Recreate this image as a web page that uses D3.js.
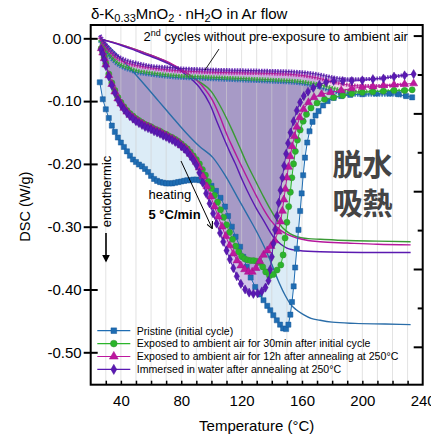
<!DOCTYPE html>
<html>
<head>
<meta charset="utf-8">
<script src="https://cdn.jsdelivr.net/npm/d3@7"></script>
<style>
  body { margin: 0; background: #fff; }
  text { font-family: "Liberation Sans", Arial, sans-serif; fill: #000; }
</style>
</head>
<body>
<script>
// chart box
const DIM = { width: 431, height: 438, left: 90.7, top: 25, right: 8.3, bottom: 53.3 };
DIM.innerWidth = DIM.width - DIM.left - DIM.right;
DIM.innerHeight = DIM.height - DIM.top - DIM.bottom;

// ---- data: [temperature (°C), DSC (W/g)] ----
const pristineFirst = [[26,-0.070],[28,-0.097],[30,-0.113],[32,-0.127],[34,-0.139],[36,-0.149],[38,-0.158],[40,-0.166],[42,-0.173],[44,-0.180],[46,-0.187],[48,-0.193],[50,-0.197],[52,-0.201],[54,-0.204],[56,-0.208],[58,-0.213],[60,-0.219],[62,-0.224],[64,-0.227],[66,-0.229],[68,-0.230],[70,-0.231],[72,-0.231],[74,-0.231],[76,-0.230],[78,-0.229],[80,-0.228],[82,-0.227],[84,-0.226],[86,-0.226],[88,-0.225],[90,-0.225],[92,-0.226],[94,-0.227],[97,-0.230],[100,-0.235],[103,-0.243],[106,-0.254],[109,-0.268],[111,-0.283],[113.5,-0.300],[116,-0.316],[119,-0.332],[121,-0.348],[123.4,-0.364],[126,-0.381],[129,-0.396],[132,-0.408],[134.5,-0.417],[137,-0.426],[139,-0.433],[141,-0.441],[143.3,-0.449],[145.5,-0.456],[147.5,-0.462],[149.5,-0.463],[151,-0.456],[152.3,-0.440],[153.4,-0.420],[154.5,-0.395],[155.5,-0.365],[156.6,-0.335],[157.7,-0.305],[158.8,-0.275],[159.8,-0.247],[160.8,-0.218],[162,-0.190],[163.5,-0.166],[165,-0.148],[167,-0.133],[169,-0.123],[171,-0.116],[174,-0.107],[177,-0.100],[181,-0.095],[186,-0.092],[192,-0.090],[200,-0.089],[209,-0.088],[218,-0.088],[224,-0.089],[229,-0.092],[233,-0.094]];
const air30First = [[27,-0.016],[28,-0.022],[29,-0.030],[30,-0.040],[32,-0.057],[34,-0.071],[36,-0.083],[38,-0.094],[40,-0.102],[42,-0.109],[44,-0.115],[46,-0.120],[48,-0.124],[50,-0.128],[52,-0.131],[54,-0.134],[56,-0.137],[58,-0.139],[60,-0.141],[62,-0.144],[64,-0.146],[66,-0.148],[68,-0.151],[70,-0.153],[72,-0.156],[74,-0.158],[76,-0.161],[78,-0.164],[80,-0.168],[82,-0.172],[84,-0.176],[86,-0.181],[88,-0.187],[90,-0.193],[92,-0.200],[94,-0.209],[96,-0.218],[98,-0.228],[100,-0.239],[102,-0.250],[104,-0.261],[106,-0.273],[108,-0.285],[110,-0.297],[112,-0.309],[114,-0.320],[116,-0.331],[118,-0.340],[120,-0.347],[122,-0.351],[124,-0.353],[126,-0.354],[128,-0.354],[130,-0.355],[132,-0.357],[134,-0.364],[136,-0.372],[138.5,-0.378],[141,-0.376],[143.5,-0.369],[146,-0.361],[147.5,-0.345],[148.8,-0.318],[150,-0.293],[151.2,-0.268],[152.3,-0.245],[153.3,-0.222],[154.4,-0.200],[155.6,-0.180],[157,-0.162],[158.8,-0.146],[160.8,-0.132],[163,-0.121],[166,-0.111],[170,-0.103],[175,-0.097],[181,-0.094],[187,-0.091],[193,-0.088],[200,-0.086],[207,-0.085],[214,-0.084],[221,-0.083],[228,-0.083],[233,-0.082]];
const air12hFirst = [[27,-0.016],[28,-0.023],[29,-0.032],[30,-0.042],[32,-0.059],[34,-0.073],[36,-0.085],[38,-0.096],[40,-0.104],[42,-0.111],[44,-0.117],[46,-0.122],[48,-0.126],[50,-0.130],[52,-0.133],[54,-0.136],[56,-0.139],[58,-0.141],[60,-0.143],[62,-0.146],[64,-0.148],[66,-0.150],[68,-0.153],[70,-0.155],[72,-0.158],[74,-0.160],[76,-0.163],[78,-0.166],[80,-0.170],[82,-0.174],[84,-0.178],[86,-0.184],[88,-0.190],[90,-0.197],[92,-0.206],[94.5,-0.220],[97,-0.236],[99.5,-0.252],[102,-0.268],[104.5,-0.284],[107,-0.300],[109.5,-0.315],[112,-0.330],[114.5,-0.343],[117,-0.354],[119.5,-0.362],[122,-0.368],[124.5,-0.372],[127,-0.372],[129.5,-0.366],[132,-0.355],[134.5,-0.345],[137,-0.338],[139.5,-0.331],[142,-0.322],[144.2,-0.308],[145.8,-0.292],[147,-0.275],[148,-0.257],[149,-0.240],[150,-0.222],[151,-0.205],[152.2,-0.188],[153.5,-0.172],[155,-0.156],[156.6,-0.141],[158.5,-0.126],[161,-0.113],[164.3,-0.102],[168,-0.094],[173,-0.089],[179,-0.086],[186,-0.083],[193,-0.080],[200,-0.078],[207,-0.077],[214,-0.075],[221,-0.074],[228,-0.073],[234,-0.072]];
const waterFirst = [[27,-0.018],[28,-0.025],[29,-0.034],[30,-0.044],[32,-0.061],[34,-0.075],[36,-0.087],[38,-0.098],[40,-0.106],[42,-0.113],[44,-0.119],[46,-0.124],[48,-0.128],[50,-0.132],[52,-0.135],[54,-0.138],[56,-0.141],[58,-0.143],[60,-0.145],[62,-0.148],[64,-0.150],[66,-0.152],[68,-0.155],[70,-0.157],[72,-0.160],[74,-0.162],[76,-0.165],[78,-0.168],[80,-0.172],[82,-0.176],[84,-0.181],[86,-0.187],[88,-0.194],[90,-0.202],[92,-0.214],[94.2,-0.230],[96.5,-0.247],[98.8,-0.263],[101.1,-0.279],[103.4,-0.295],[105.7,-0.310],[107.8,-0.324],[110,-0.338],[112.2,-0.352],[114.5,-0.366],[116.8,-0.379],[119.5,-0.391],[122.3,-0.400],[125,-0.405],[127.8,-0.407],[130.6,-0.406],[133.4,-0.403],[135.8,-0.397],[137.8,-0.386],[139,-0.368],[140,-0.348],[141.1,-0.327],[142.2,-0.305],[143.4,-0.283],[144.6,-0.262],[145.8,-0.242],[147,-0.222],[148.2,-0.203],[149.5,-0.184],[150.8,-0.167],[152.4,-0.150],[154.4,-0.132],[156.6,-0.115],[158.8,-0.102],[161.2,-0.092],[164,-0.085],[167.5,-0.079],[171.5,-0.074],[176,-0.070],[181,-0.068],[187,-0.068],[193,-0.068],[200,-0.067],[207,-0.065],[214,-0.064],[221,-0.061],[228,-0.059],[234,-0.057]];

// 2nd cycles (no pre-exposure)
const pristineSecond = [[26,-0.004],[28,-0.012],[30,-0.020],[33,-0.030],[36,-0.038],[40,-0.045],[45,-0.050],[50,-0.054],[60,-0.058],[70,-0.061],[80,-0.063],[90,-0.064],[100,-0.065],[120,-0.067],[140,-0.069],[160,-0.072],[170,-0.077],[180,-0.084],[190,-0.089],[200,-0.090],[210,-0.090],[220,-0.090],[230,-0.092]];
const air30Second = [[26,-0.002],[28,-0.010],[30,-0.017],[33,-0.027],[36,-0.035],[40,-0.042],[45,-0.047],[50,-0.051],[60,-0.055],[70,-0.058],[80,-0.060],[90,-0.061],[100,-0.062],[120,-0.064],[140,-0.066],[160,-0.069],[170,-0.073],[180,-0.079],[190,-0.084],[200,-0.085],[210,-0.085],[220,-0.084],[230,-0.083]];
const air12hSecond = [[26,0.002],[28,-0.006],[30,-0.013],[33,-0.022],[36,-0.029],[40,-0.035],[45,-0.040],[50,-0.043],[60,-0.047],[70,-0.050],[80,-0.052],[90,-0.053],[100,-0.054],[120,-0.055],[140,-0.056],[160,-0.059],[170,-0.063],[180,-0.069],[190,-0.074],[200,-0.076],[210,-0.076],[220,-0.075],[230,-0.073]];
const waterSecond = [[26,0.005],[28,-0.003],[30,-0.010],[33,-0.018],[36,-0.025],[40,-0.031],[45,-0.036],[50,-0.039],[60,-0.044],[70,-0.046],[80,-0.048],[90,-0.049],[100,-0.050],[120,-0.051],[140,-0.052],[160,-0.054],[170,-0.057],[180,-0.062],[190,-0.065],[200,-0.065],[210,-0.064],[220,-0.061],[230,-0.058]];

// integrated heat curves (solid lines, no markers)
const pristineInt = [[28,-0.003],[35,-0.020],[45,-0.045],[55,-0.072],[65,-0.100],[75,-0.128],[83,-0.150],[92,-0.172],[101,-0.190],[109,-0.218],[117,-0.252],[124,-0.282],[130,-0.308],[135,-0.332],[140,-0.360],[145,-0.390],[149,-0.410],[152,-0.422],[156,-0.432],[161,-0.440],[166,-0.446],[172,-0.449],[180,-0.452],[195,-0.454],[215,-0.455],[232,-0.456]];
const air30Int = [[28,-0.002],[40,-0.010],[50,-0.018],[60,-0.027],[70,-0.037],[80,-0.050],[90,-0.066],[100,-0.085],[107,-0.113],[113.5,-0.145],[118.5,-0.172],[123.4,-0.199],[129,-0.226],[134.5,-0.252],[139,-0.272],[143.3,-0.289],[147.7,-0.303],[152,-0.311],[156.6,-0.316],[164,-0.319],[172,-0.320],[190,-0.322],[210,-0.323],[232,-0.324]];
const air12hInt = [[28,-0.002],[40,-0.010],[50,-0.018],[60,-0.027],[71.5,-0.038],[82,-0.053],[93.6,-0.075],[101,-0.100],[106,-0.127],[110,-0.152],[114.5,-0.176],[119,-0.199],[124.5,-0.226],[130,-0.252],[134.5,-0.272],[139,-0.289],[145.5,-0.305],[150,-0.312],[156.6,-0.318],[164,-0.322],[172,-0.324],[190,-0.326],[210,-0.328],[232,-0.329]];
const waterInt = [[28,-0.002],[40,-0.011],[50,-0.020],[60,-0.029],[71,-0.040],[82,-0.056],[92,-0.078],[99,-0.105],[104,-0.135],[108,-0.158],[112,-0.180],[115.7,-0.199],[120.5,-0.226],[125.6,-0.252],[130,-0.272],[134.5,-0.290],[141,-0.316],[146,-0.328],[150,-0.334],[158,-0.338],[172,-0.340],[200,-0.341],[232,-0.341]];

const legendLabels = [
    'Pristine (initial cycle)',
    'Exposed to ambient air for 30min after initial cycle',
    'Exposed to ambient air for 12h after annealing at 250\u00b0C',
    'Immersed in water after annealing at 250\u00b0C'
];
const xTicks = [40, 80, 120, 160, 200, 240];
const yTicks = [0, -0.1, -0.2, -0.3, -0.4, -0.5];

const series = [
    { first: pristineFirst, second: pristineSecond, integ: pristineInt, color: '#1f6db3', edge: '#17599a', intColor: '#2a6da8',
      fill: 'rgba(170,210,235,0.41)', symbol: d3.symbolSquare, size: 26 },
    { first: air30First, second: air30Second, integ: air30Int, color: '#2bb52b', edge: '#3a8f3a', intColor: '#3a9a35',
      fill: 'rgba(90,200,90,0.2)', symbol: d3.symbolCircle, size: 30 },
    { first: air12hFirst, second: air12hSecond, integ: air12hInt, color: '#bd189e', edge: '#a0138a', intColor: '#b5179c',
      fill: 'rgba(200,60,170,0.2)', symbol: d3.symbolTriangle, size: 28 },
    { first: waterFirst, second: waterSecond, integ: waterInt, color: '#5a19b3', edge: '#4a1496', intColor: '#5a19b0',
      fill: 'rgba(100,60,180,0.29)', symbol: d3.symbolDiamond, size: 24 }
];

const svg = d3.select('body').append('svg')
    .attr('width', DIM.width)
    .attr('height', DIM.height);

const canvas = svg.append('g')
    .attr('transform', `translate(${DIM.left},${DIM.top})`);

const x = d3.scaleLinear().domain([20, 240]).range([0, DIM.innerWidth]);
const y = d3.scaleLinear().domain([-0.5516, 0.0212]).range([DIM.innerHeight, 0]);
// right-hand axis (unlabelled, secondary scale)
const yRight = d3.scaleLinear().domain([-4.487, 0.136]).range([DIM.innerHeight, 0]);

const line = d3.line().x(d => x(d[0])).y(d => y(d[1]));
const smooth = d3.line().x(d => x(d[0])).y(d => y(d[1])).curve(d3.curveMonotoneX);

canvas.append('defs').append('clipPath').attr('id', 'clip')
    .append('rect').attr('width', DIM.innerWidth).attr('height', DIM.innerHeight);
const plot = canvas.append('g').attr('clip-path', 'url(#clip)');

// shaded regions between initial and 2nd cycle
series.forEach(s => {
    const poly = s.first.concat(s.second.slice().reverse());
    plot.append('path')
        .attr('d', line(poly) + 'Z')
        .attr('fill', s.fill)
        .attr('stroke', 'none');
});

// vertical grid every 10 °C
plot.append('g')
    .selectAll('line')
    .data(d3.range(30, 240, 10))
    .join('line')
    .attr('x1', d => x(d)).attr('x2', d => x(d))
    .attr('y1', 0).attr('y2', DIM.innerHeight)
    .attr('stroke', '#cfcfcf')
    .attr('stroke-opacity', 0.6)
    .attr('stroke-width', 1);

// integrated heat lines
series.forEach(s => {
    plot.append('path')
        .attr('d', smooth(s.integ))
        .attr('fill', 'none')
        .attr('stroke', s.intColor)
        .attr('stroke-width', 1.4);
});

// 2nd cycles: dense small markers look
series.forEach(s => {
    plot.append('path')
        .attr('d', smooth(s.second))
        .attr('fill', 'none')
        .attr('stroke', s.color)
        .attr('stroke-width', 4)
        .attr('stroke-dasharray', '1.6,1.1')
        .attr('opacity', 0.85);
    plot.append('path')
        .attr('d', smooth(s.second))
        .attr('fill', 'none')
        .attr('stroke', s.edge)
        .attr('stroke-width', 0.8);
});

// initial cycles with markers
series.forEach(s => {
    plot.append('path')
        .attr('d', line(s.first))
        .attr('fill', 'none')
        .attr('stroke', s.color)
        .attr('stroke-width', 1);
    plot.append('g')
        .selectAll('path')
        .data(s.first)
        .join('path')
        .attr('transform', d => `translate(${x(d[0])},${y(d[1])})`)
        .attr('d', d3.symbol().type(s.symbol).size(s.size))
        .attr('fill', s.color)
        .attr('stroke', s.edge)
        .attr('stroke-width', 0.5);
});

// frame
canvas.append('rect')
    .attr('width', DIM.innerWidth)
    .attr('height', DIM.innerHeight)
    .attr('fill', 'none')
    .attr('stroke', '#000')
    .attr('stroke-width', 2);

// left axis: crossing ticks
const yAxisGroup = canvas.append('g').call(
    d3.axisLeft(y).tickValues(yTicks).tickSize(7).tickPadding(2).tickFormat(d => d.toFixed(2))
);
yAxisGroup.select('.domain').remove();
yAxisGroup.selectAll('.tick line').attr('x1', 7).attr('stroke-width', 2);
yAxisGroup.selectAll('.tick text').attr('font-size', 15).attr('font-family', '"Liberation Sans", Arial, sans-serif');

// right axis: inward ticks, no labels
const rMajor = canvas.append('g').attr('transform', `translate(${DIM.innerWidth},0)`)
    .call(d3.axisLeft(yRight).tickValues([0, -1, -2, -3, -4]).tickSize(9).tickFormat(''));
const rMinor = canvas.append('g').attr('transform', `translate(${DIM.innerWidth},0)`)
    .call(d3.axisLeft(yRight).tickValues([-0.5, -1.5, -2.5, -3.5]).tickSize(5).tickFormat(''));
[rMajor, rMinor].forEach(g => {
    g.select('.domain').remove();
    g.selectAll('.tick line').attr('stroke-width', 2);
});

// bottom axis: inward ticks + labels
const xMinor = canvas.append('g').attr('transform', `translate(0,${DIM.innerHeight})`)
    .call(d3.axisTop(x).tickValues(d3.range(30, 240, 10)).tickSize(4).tickFormat(''));
const xLabels = canvas.append('g').attr('transform', `translate(0,${DIM.innerHeight})`)
    .call(d3.axisBottom(x).tickValues(xTicks).tickSize(0).tickPadding(11));
[xMinor, xLabels].forEach(g => g.select('.domain').remove());
xMinor.selectAll('.tick line').attr('stroke-width', 1.5);
xLabels.selectAll('.tick text').attr('font-size', 15).attr('font-family', '"Liberation Sans", Arial, sans-serif');

// axis titles
svg.append('text')
    .attr('x', DIM.left + DIM.innerWidth / 2)
    .attr('y', 431)
    .attr('text-anchor', 'middle')
    .attr('font-size', 15)
    .text('Temperature (\u00b0C)');

svg.append('text')
    .attr('transform', 'translate(30,206.7) rotate(-90)')
    .attr('text-anchor', 'middle')
    .attr('font-size', 14.5)
    .text('DSC (W/g)');

// title
const title = svg.append('text')
    .attr('x', 91)
    .attr('y', 18.5)
    .attr('font-size', 15);
title.append('tspan').text('\u03b4-K');
title.append('tspan').attr('font-size', 11).attr('dy', 3).text('0.33');
title.append('tspan').attr('dy', -3).text('MnO');
title.append('tspan').attr('font-size', 11).attr('dy', 3).text('2');
title.append('tspan').attr('dy', -3).text('\u2009\u00b7\u2009nH');
title.append('tspan').attr('font-size', 11).attr('dy', 3).text('2');
title.append('tspan').attr('dy', -3).text('O in Ar flow');

// annotation: 2nd cycles
const note = svg.append('text')
    .attr('x', 143.5)
    .attr('y', 40.5)
    .attr('font-size', 13);
note.append('tspan').text('2');
note.append('tspan').attr('font-size', 9).attr('dy', -5).text('nd');
note.append('tspan').attr('dy', 5).text(' cycles without pre-exposure to ambient air');
svg.append('line')
    .attr('x1', 219).attr('y1', 49).attr('x2', 205).attr('y2', 70)
    .attr('stroke', '#000').attr('stroke-width', 0.9);

// heating annotation
const defs = svg.append('defs');
defs.append('marker')
    .attr('id', 'head').attr('viewBox', '0 0 10 10')
    .attr('refX', 9).attr('refY', 5)
    .attr('markerWidth', 7).attr('markerHeight', 7)
    .attr('markerUnits', 'userSpaceOnUse')
    .attr('orient', 'auto')
    .append('path').attr('d', 'M0,0L10,5L0,10').attr('fill', 'none').attr('stroke', '#000').attr('stroke-width', 1.5);
defs.append('marker')
    .attr('id', 'headFill').attr('viewBox', '0 0 10 10')
    .attr('refX', 8).attr('refY', 5)
    .attr('markerWidth', 8).attr('markerHeight', 8)
    .attr('markerUnits', 'userSpaceOnUse')
    .attr('orient', 'auto')
    .append('path').attr('d', 'M0,0L10,5L0,10Z').attr('fill', '#000');

svg.append('line')
    .attr('x1', 181).attr('y1', 161).attr('x2', 212).attr('y2', 228)
    .attr('stroke', '#000').attr('stroke-width', 1)
    .attr('marker-end', 'url(#head)');
svg.append('text').attr('x', 148.5).attr('y', 198.5).attr('font-size', 13).text('heating');
svg.append('text').attr('x', 148.5).attr('y', 218.5).attr('font-size', 13).attr('font-weight', 'bold').text('5 \u00b0C/min');

// endothermic
svg.append('text')
    .attr('transform', 'translate(110.5,191.5) rotate(-90)')
    .attr('text-anchor', 'middle')
    .attr('font-size', 13)
    .text('endothermic');
svg.append('line')
    .attr('x1', 106).attr('y1', 233).attr('x2', 106).attr('y2', 261)
    .attr('stroke', '#000').attr('stroke-width', 1.6)
    .attr('marker-end', 'url(#headFill)');

// CJK labels
[['\u8131\u6c34', 175], ['\u5438\u71b1', 214]].forEach(([t, yy]) => {
    svg.append('text')
        .attr('x', 362.5).attr('y', yy)
        .attr('text-anchor', 'middle')
        .attr('font-size', 30)
        .attr('font-weight', 'bold')
        .style('font-family', '"Noto Sans CJK JP", sans-serif')
        .style('fill', '#444')
        .text(t);
});

// legend
const legend = svg.append('g').attr('transform', 'translate(97.3,330.7)');
series.forEach((s, i) => {
    const row = legend.append('g').attr('transform', `translate(0,${i * 12.9})`);
    row.append('line').attr('x1', 0).attr('x2', 33).attr('y1', 0).attr('y2', 0)
        .attr('stroke', s.color).attr('stroke-width', 1.2);
    row.append('path').attr('transform', 'translate(16.5,0)')
        .attr('d', d3.symbol().type(s.symbol).size(s.size + 6))
        .attr('fill', s.color).attr('stroke', s.edge).attr('stroke-width', 0.5);
    row.append('text').attr('x', 39.4).attr('y', 3.8).attr('font-size', 10.6).text(legendLabels[i]);
});
</script>
</body>
</html>
